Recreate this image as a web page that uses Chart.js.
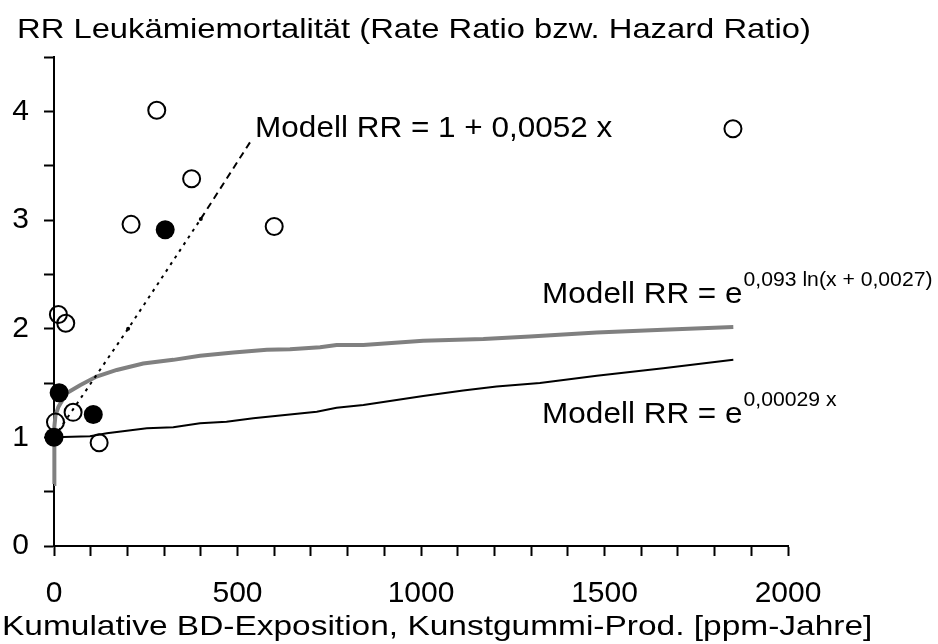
<!DOCTYPE html>
<html>
<head>
<meta charset="utf-8">
<script src="https://cdn.jsdelivr.net/npm/chart.js@4.4.1/dist/chart.umd.min.js"></script>
<style>
  html, body { margin: 0; padding: 0; background: #fff; }
  #wrap { width: 938px; height: 644px; }
</style>
</head>
<body>
<div id="wrap"><canvas id="chart"></canvas></div>
<script>
// ── Daten ────
const TITEL = 'RR Leukämiemortalität (Rate Ratio bzw. Hazard Ratio)';
const X_TITEL = 'Kumulative BD-Exposition, Kunstgummi-Prod. [ppm-Jahre]';
const X_LABELS = [0, 500, 1000, 1500, 2000];
const Y_LABELS = [0, 1, 2, 3, 4];

// Studien: offene Kreise (Rate Ratio)
const offenX = [280, 375, 210, 600, 1850, 12, 32, 52, 4, 123];
const offenY = [4.01, 3.38, 2.96, 2.94, 3.84, 2.13, 2.05, 1.23, 1.14, 0.95];
// Studien: gefüllte Kreise (Hazard Ratio)
const vollX = [303, 14, 107, 0];
const vollY = [2.91, 1.41, 1.21, 1.0];

// Modell RR = 1 + 0,0052 x
const linX = [0, 202, 400, 535];
const linY = [1.0, 2.0, 3.01, 3.72];
// Modell RR = e^(0,093 ln(x + 0,0027))
const logX = [0, 1, 4, 12, 34, 71, 116, 171, 243, 325, 398, 489, 580, 643, 725, 770, 843, 1006, 1170, 1297, 1479, 1660, 1851];
const logY = [0.57, 1.1, 1.2, 1.28, 1.405, 1.48, 1.56, 1.62, 1.68, 1.713, 1.75, 1.78, 1.805, 1.81, 1.83, 1.85, 1.85, 1.888, 1.904, 1.928, 1.965, 1.99, 2.015];
// Modell RR = e^(0,00029 x)
const expX = [0, 98, 144, 253, 325, 398, 470, 543, 616, 716, 770, 843, 1006, 1115, 1206, 1324, 1479, 1660, 1851];
const expY = [1.0, 1.01, 1.037, 1.083, 1.092, 1.129, 1.144, 1.175, 1.2, 1.236, 1.273, 1.298, 1.381, 1.43, 1.467, 1.5, 1.566, 1.636, 1.713];

const punkte = (xs, ys) => xs.map((x, i) => ({ x, y: ys[i] }));

const FONT = '"Liberation Sans", Arial, sans-serif';

// Text mit horizontaler Streckung zeichnen
function schreib(ctx, txt, px, py, size, sx) {
    ctx.font = `${size}px ${FONT}`;
    const w = ctx.measureText(txt).width * sx;
    ctx.save();
    ctx.translate(px, py);
    ctx.scale(sx, 1);
    ctx.fillText(txt, 0, 0);
    ctx.restore();
    return w;
}

function formel(ctx, haupt, hoch, px, py) {
    const w = schreib(ctx, haupt, px, py, 29, 1.086);
    schreib(ctx, hoch, px + w + 1, py - 17, 19.5, 1.086);
}

// ── Beschriftungen ────
const textePlugin = {
    id: 'texte',
    afterDraw(chart) {
        const { ctx, scales: { x, y } } = chart;
        ctx.save();
        ctx.fillStyle = '#000';
        ctx.textBaseline = 'alphabetic';
        ctx.textAlign = 'left';
        schreib(ctx, TITEL, 17, 38, 28, 1.17);
        schreib(ctx, X_TITEL, 2, 635, 28, 1.195);
        schreib(ctx, 'Modell RR = 1 + 0,0052 x', x.getPixelForValue(548), y.getPixelForValue(3.76), 29, 1.086);
        formel(ctx, 'Modell RR = e', '0,093 ln(x + 0,0027)', x.getPixelForValue(1330), y.getPixelForValue(2.236));
        formel(ctx, 'Modell RR = e', '0,00029 x', x.getPixelForValue(1330), y.getPixelForValue(1.13));
        ctx.restore();
    }
};

new Chart(document.getElementById('chart'), {
    type: 'scatter',
    data: {
        datasets: [
            {
                label: 'HR',
                data: punkte(vollX, vollY),
                pointRadius: 9.5,
                pointBackgroundColor: '#000',
                pointBorderColor: '#000',
                pointBorderWidth: 0
            },
            {
                label: 'RR',
                data: punkte(offenX, offenY),
                pointRadius: 8.5,
                pointBackgroundColor: 'rgba(0,0,0,0)',
                pointBorderColor: '#000',
                pointBorderWidth: 2
            },
            {
                label: 'linear',
                data: punkte(linX, linY),
                showLine: true,
                borderColor: '#000',
                borderWidth: 2,
                pointRadius: [0, 2, 2, 0],
                pointBackgroundColor: '#000',
                pointBorderWidth: 0,
                segment: { borderDash: c => c.p0DataIndex >= 2 ? [7, 5] : [3, 5] }
            },
            {
                label: 'exp',
                data: punkte(expX, expY),
                showLine: true,
                borderColor: '#000',
                borderWidth: 2,
                pointRadius: 0
            },
            {
                label: 'log',
                data: punkte(logX, logY),
                showLine: true,
                borderColor: '#808080',
                borderWidth: 4,
                pointRadius: 0
            }
        ]
    },
    options: {
        responsive: true,
        maintainAspectRatio: false,
        animation: false,
        events: [],
        clip: false,
        layout: { padding: { left: 0, right: 150, top: 57, bottom: 0 } },
        plugins: {
            legend: { display: false },
            tooltip: { enabled: false },
            title: { display: false }
        },
        scales: {
            x: {
                type: 'linear',
                min: 0,
                max: 2000,
                afterFit: s => { s.height = 98; },
                border: { display: true, color: '#000', width: 2 },
                grid: { drawOnChartArea: false, drawTicks: true, tickLength: 10, tickWidth: 2, tickColor: '#000' },
                ticks: {
                    stepSize: 100,
                    padding: 20,
                    color: '#000',
                    maxRotation: 0,
                    autoSkip: false,
                    font: { family: FONT, size: 30 },
                    callback: v => X_LABELS.includes(v) ? v : ''
                }
            },
            y: {
                type: 'linear',
                min: 0,
                max: 4.5,
                afterFit: s => { s.width = 54; },
                border: { display: true, color: '#000', width: 2 },
                grid: { drawOnChartArea: false, drawTicks: true, tickLength: 10, tickWidth: 2, tickColor: '#000' },
                ticks: {
                    stepSize: 0.5,
                    padding: 15,
                    color: '#000',
                    autoSkip: false,
                    font: { family: FONT, size: 30 },
                    callback: v => Y_LABELS.includes(v) ? v : ''
                }
            }
        }
    },
    plugins: [textePlugin]
});
</script>
</body>
</html>
